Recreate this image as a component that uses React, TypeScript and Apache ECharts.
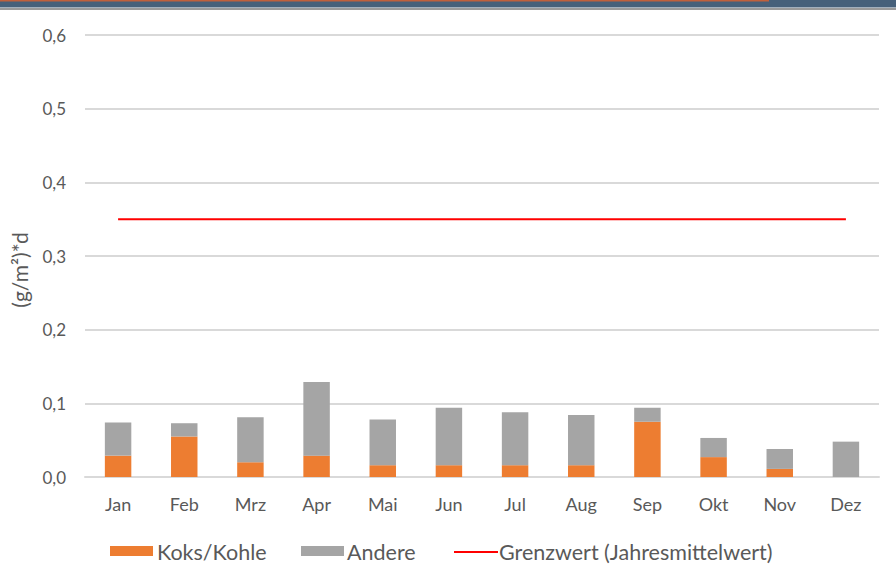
import React, { useEffect, useRef } from "react";
import * as echarts from "echarts";

const months = ["Jan", "Feb", "Mrz", "Apr", "Mai", "Jun", "Jul", "Aug", "Sep", "Okt", "Nov", "Dez"];
const koksKohle = [0.029, 0.055, 0.02, 0.029, 0.016, 0.016, 0.016, 0.016, 0.075, 0.027, 0.011, 0];
const andere = [0.045, 0.018, 0.061, 0.1, 0.062, 0.078, 0.072, 0.068, 0.019, 0.026, 0.027, 0.048];
const grenzwert = [0.35, 0.35, 0.35, 0.35, 0.35, 0.35, 0.35, 0.35, 0.35, 0.35, 0.35, 0.35];
const yTicks = [0, 0.1, 0.2, 0.3, 0.4, 0.5, 0.6];
const seriesNames = ["Koks/Kohle", "Andere", "Grenzwert (Jahresmittelwert)"];
const yAxisTitle = "(g/m²)*d";

const FONT = "Lato, 'Open Sans', sans-serif";
const TXT = "#595959";
const ORANGE = "#ed7d31";
const GREY = "#a5a5a5";
const RED = "#ff0000";

export default function App() {
  const ref = useRef<HTMLDivElement>(null);
  useEffect(() => {
    if (!ref.current) return;
    const chart = echarts.init(ref.current, null, { renderer: "svg" });
    const legendText = (x: number, text: string) => ({
      type: "text",
      x,
      y: 552,
      silent: true,
      style: { text, fill: TXT, fontSize: 21.5, fontFamily: FONT, align: "left", verticalAlign: "middle" },
    });
    chart.setOption({
      animation: false,
      textStyle: { fontFamily: FONT },
      graphic: [
        { type: "rect", silent: true, shape: { x: 0, y: 0, width: 896, height: 7.5 }, style: { fill: "#46607a" } },
        { type: "rect", silent: true, shape: { x: 0, y: 0, width: 769, height: 1.5 }, style: { fill: "#c0603c" } },
        { type: "rect", silent: true, shape: { x: 0, y: 8, width: 896, height: 2 }, style: { fill: "#9a9a9a" } },
        {
          type: "text",
          x: 19,
          y: 270,
          rotation: Math.PI / 2,
          silent: true,
          style: {
            text: yAxisTitle,
            fill: TXT,
            fontSize: 21,
            fontFamily: FONT,
            align: "center",
            verticalAlign: "middle",
          },
        },
        { type: "rect", silent: true, shape: { x: 110, y: 546, width: 43, height: 10 }, style: { fill: ORANGE } },
        legendText(157, seriesNames[0]),
        { type: "rect", silent: true, shape: { x: 301, y: 546, width: 43, height: 10 }, style: { fill: GREY } },
        legendText(347, seriesNames[1]),
        { type: "line", silent: true, shape: { x1: 454, y1: 552, x2: 498, y2: 552 }, style: { stroke: RED, lineWidth: 2 } },
        legendText(499, seriesNames[2]),
      ],
      grid: { left: 85, right: 17, top: 35, bottom: 105, containLabel: false },
      xAxis: {
        type: "category",
        data: months,
        axisLine: { show: true, lineStyle: { color: "#d9d9d9", width: 2 } },
        axisTick: { show: false },
        axisLabel: { color: TXT, fontSize: 18, fontFamily: FONT, margin: 18 },
      },
      yAxis: {
        type: "value",
        min: 0,
        max: 0.6,
        interval: 0.1,
        axisLine: { show: false },
        axisTick: { show: false },
        splitLine: { lineStyle: { color: "#d9d9d9", width: 2 } },
        axisLabel: {
          color: TXT,
          fontSize: 17,
          fontFamily: FONT,
          margin: 19,
          formatter: (v: number) => {
            const t = yTicks.find((x) => Math.abs(x - v) < 1e-9);
            return (t !== undefined ? t : v).toFixed(1).replace(".", ",");
          },
        },
      },
      series: [
        {
          name: seriesNames[0],
          type: "bar",
          stack: "a",
          data: koksKohle,
          barWidth: "40%",
          itemStyle: { color: ORANGE },
        },
        {
          name: seriesNames[1],
          type: "bar",
          stack: "a",
          data: andere,
          barWidth: "40%",
          itemStyle: { color: GREY },
        },
        {
          name: seriesNames[2],
          type: "line",
          data: grenzwert,
          symbol: "none",
          lineStyle: { color: RED, width: 2 },
          itemStyle: { color: RED },
        },
      ],
    });
    return () => chart.dispose();
  }, []);
  return (
    <div
      ref={ref}
      style={{ position: "absolute", left: 0, top: 0, width: 896, height: 582 }}
    />
  );
}
